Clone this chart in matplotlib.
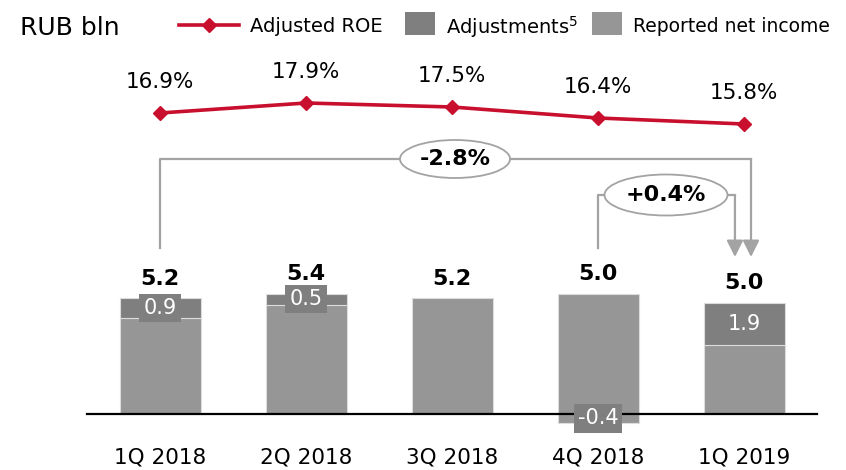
import numpy as np
import matplotlib
matplotlib.use("Agg")
import matplotlib.pyplot as plt
from matplotlib.patches import Ellipse, Rectangle

# data
quarters = ["1Q 2018", "2Q 2018", "3Q 2018", "4Q 2018", "1Q 2019"]
reported = [4.3, 4.9, 5.2, 5.4, 3.1]
adjustments = [0.9, 0.5, 0.0, -0.4, 1.9]
adjusted_total = [5.2, 5.4, 5.2, 5.0, 5.0]
adj_roe = [16.9, 17.9, 17.5, 16.4, 15.8]
roe_change_year = "-2.8%"
roe_change_quarter = "+0.4%"

C_REP = "#969696"
C_ADJ = "#7f7f7f"
C_RED = "#c8102e"
C_BRK = "#a3a3a3"

plt.rcParams["font.family"] = ["DejaVu Sans"]

fig = plt.figure(figsize=(8.46, 4.70), dpi=100)
ax = fig.add_axes([0, 0, 1, 1])
ax.axis("off")

step = 146.0        # px between bars
base_row = 414.0    # baseline pixel row
ypx = 22.3          # px per RUB bln
ax.set_xlim(-160 / step, (846 - 160) / step)
ax.set_ylim(-(470 - base_row) / ypx, base_row / ypx)


def yrow(row):
    return (base_row - row) / ypx


x = np.arange(len(quarters))
w = 81 / step
edge = dict(edgecolor="#dcdcdc", linewidth=0.8)
ax.bar(x, reported, width=w, color=C_REP, zorder=2, **edge)
for i, a in enumerate(adjustments):
    if a > 0:
        ax.bar(x[i], a, bottom=reported[i], width=w, color=C_ADJ, zorder=2, **edge)
    elif a < 0:
        ax.bar(x[i], a, bottom=0, width=w, color=C_REP, zorder=2, **edge)

ax.plot([-0.5, 4.5], [0, 0], color="black", lw=1.6, zorder=3)

# segment labels
for i, a in enumerate(adjustments):
    if a == 0:
        continue
    yc = reported[i] + a / 2 if a > 0 else a / 2
    ax.text(x[i], yc, f"{a:.1f}", ha="center", va="center", color="white",
            fontsize=15, zorder=5,
            bbox=dict(boxstyle="square,pad=0.2", facecolor=C_ADJ, edgecolor="none"))

# totals
for i, t in enumerate(adjusted_total):
    top = max(reported[i] + max(adjustments[i], 0), t)
    ax.annotate(f"{t:.1f}", (x[i], top), xytext=(0, 14), textcoords="offset points",
                ha="center", va="center", fontsize=16, fontweight="bold")

for i, q in enumerate(quarters):
    ax.text(x[i], yrow(458), q, ha="center", va="center", fontsize=15.5)

# ROE line
ax2 = ax.twinx()
ax2.axis("off")
ax2.set_ylim(16.9 - 35.7, 16.9 + 11.3)
ax2.plot(x, adj_roe, color=C_RED, lw=2.6, marker="D", markersize=7, zorder=4)
for i, v in enumerate(adj_roe):
    ax2.annotate(f"{v:.1f}%", (x[i], v), xytext=(0, 22), textcoords="offset points",
                 ha="center", va="center", fontsize=15.5)

# brackets
arrow = dict(arrowstyle="-|>,head_length=0.5,head_width=0.25", color=C_BRK,
             lw=1.6, shrinkA=0, shrinkB=0, mutation_scale=20)
xr_out = x[-1] + 0.048
xr_in = x[-1] - 0.062
y_tip = yrow(257)
y_out = yrow(159)
y_in = yrow(195)
ax.plot([x[0], x[0], xr_out], [yrow(248), y_out, y_out], color=C_BRK, lw=1.6, zorder=1)
ax.annotate("", xy=(xr_out, y_tip), xytext=(xr_out, y_out), arrowprops=arrow)
ax.plot([x[3], x[3], xr_in], [yrow(248), y_in, y_in], color=C_BRK, lw=1.6, zorder=1)
ax.annotate("", xy=(xr_in, y_tip), xytext=(xr_in, y_in), arrowprops=arrow)

for cx, cy, ew, eh, txt in [((455 - 160) / step, y_out, 110 / step, 38 / ypx, roe_change_year),
                            ((666 - 160) / step, y_in, 123 / step, 41 / ypx, roe_change_quarter)]:
    ax.add_patch(Ellipse((cx, cy), ew, eh, facecolor="white", edgecolor=C_BRK,
                         lw=1.3, zorder=3))
    ax.text(cx, cy, txt, ha="center", va="center", fontsize=16,
            fontweight="bold", zorder=4)

# legend (pixel coordinates overlay)
lg = fig.add_axes([0, 0, 1, 1])
lg.set_xlim(0, 846)
lg.set_ylim(470, 0)
lg.axis("off")
lg.text(20, 28, "RUB bln", ha="left", va="center", fontsize=18)
lg.plot([179, 239], [25, 25], color=C_RED, lw=2.6)
lg.plot([209], [25], color=C_RED, marker="D", markersize=7)
lg.text(250, 27, "Adjusted ROE", ha="left", va="center", fontsize=14)
lg.add_patch(Rectangle((405, 12), 30, 23, facecolor=C_ADJ, edgecolor="none"))
lg.text(446, 27, "Adjustments$^{5}$", ha="left", va="center", fontsize=14)
lg.add_patch(Rectangle((592, 12), 30, 23, facecolor=C_REP, edgecolor="none"))
lg.text(633, 27, "Reported net income", ha="left", va="center", fontsize=13.5)

fig.savefig("out.png", dpi=100)
